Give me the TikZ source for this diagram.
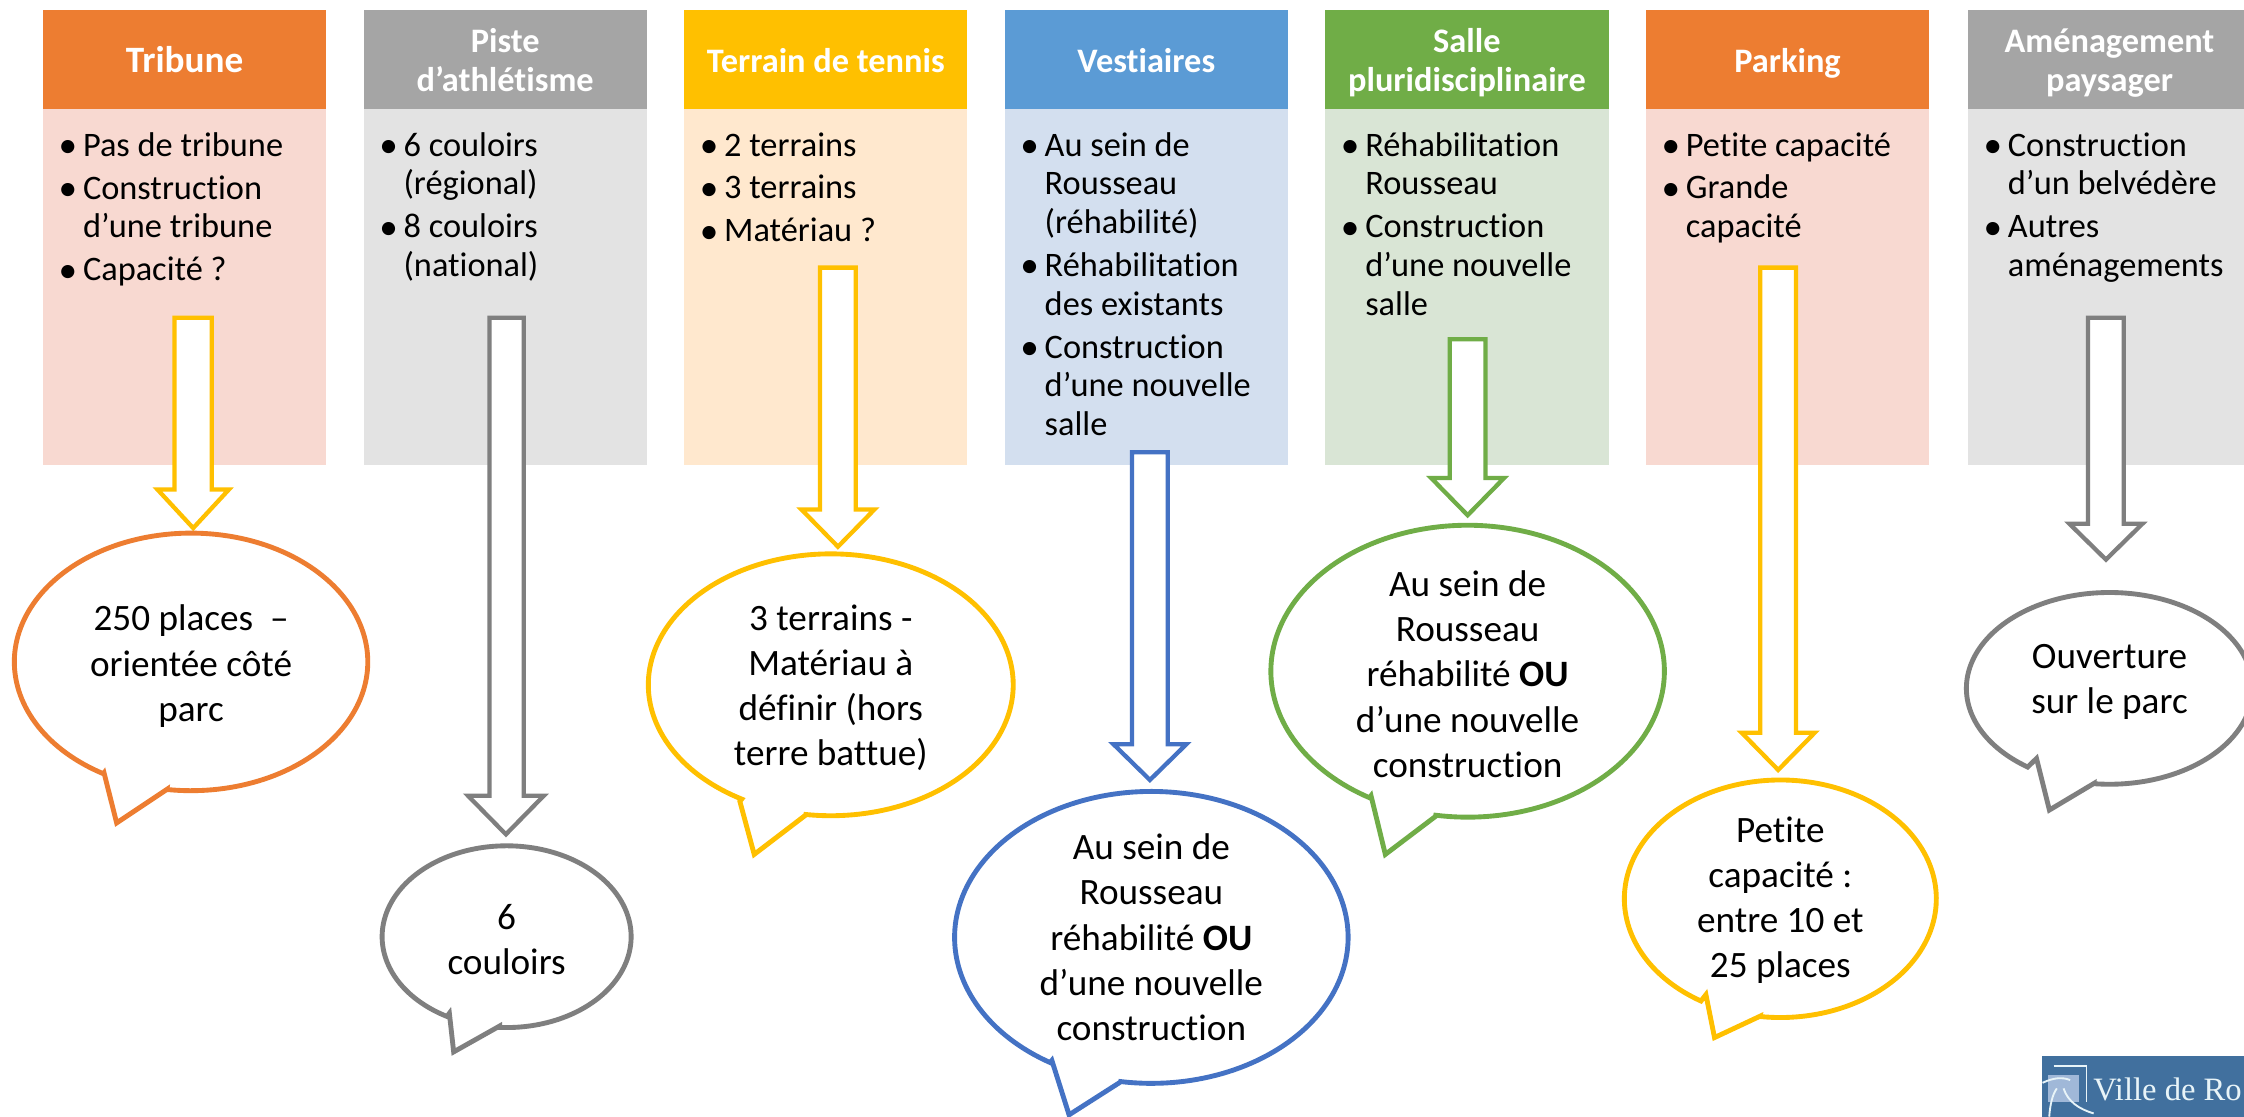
\documentclass[tikz,border=0pt]{standalone}
\usepackage{fontspec}
\setmainfont{Carlito}[Ligatures={NoCommon,TeX}]
\newfontfamily\logofont{Liberation Serif}
\definecolor{cOrange}{HTML}{ED7D31}
\definecolor{cGray}{HTML}{A5A5A5}
\definecolor{cYellow}{HTML}{FFC000}
\definecolor{cBlue}{HTML}{5B9BD5}
\definecolor{cGreen}{HTML}{70AD47}
\definecolor{bOrange}{HTML}{F8D9D1}
\definecolor{bGray}{HTML}{E3E3E3}
\definecolor{bYellow}{HTML}{FFE8CE}
\definecolor{bBlue}{HTML}{D3DFEF}
\definecolor{bGreen}{HTML}{D9E5D5}
\definecolor{aGray}{HTML}{7F7F7F}
\definecolor{aBlue}{HTML}{4472C4}
\definecolor{logoBlue}{HTML}{41709E}
\definecolor{logoSq}{HTML}{A0B8D8}
\definecolor{logoTxt}{HTML}{E8F4F8}
\newcommand{\bl}[1]{\hangindent=15pt\hangafter=1\noindent\makebox[15pt][l]{\hspace{-2pt}\smash{\raisebox{-1pt}{\fontsize{26}{26}\selectfont •}}}#1\par}
\tikzset{
  headbox/.style={anchor=north west,minimum width=198pt,minimum height=69pt,inner sep=0pt,outer sep=0pt,
    text=white,align=center,font=\fontsize{24}{27.5}\selectfont\bfseries},
  bodybox/.style={anchor=north west,minimum width=198pt,minimum height=249pt,inner sep=0pt,outer sep=0pt},
  bullets/.style={anchor=north west,inner sep=0pt,outer sep=0pt,text width=178pt,align=flush left,
    font=\fontsize{24}{27}\selectfont},
  blockarrow/.style={draw=#1,fill=white,line width=3pt,line join=miter,miter limit=10},
  bubble/.style={draw=#1,fill=white,line width=3.4pt,line join=miter},
  bubbletext/.style={align=center,inner sep=0pt,font=\fontsize{26}{31.6}\selectfont}
}
\begin{document}
\begin{tikzpicture}[x=1pt,y=-1pt]
\useasboundingbox (0,0) rectangle (1568,780.5);
\clip (0,0) rectangle (1568,780.5);
\fill[white] (0,0) rectangle (1568,780.5);
% column boxes
\foreach \nm/\xx/\hc/\bc/\txt in {
  a/30/cOrange/bOrange/{\fontsize{26}{27.5}\selectfont Tribune},
  b/254/cGray/bGray/{Piste\\d’athlétisme},
  c/478/cYellow/bYellow/{Terrain de tennis},
  d/702/cBlue/bBlue/{Vestiaires},
  e/926/cGreen/bGreen/{Salle\\pluridisciplinaire},
  f/1150/cOrange/bOrange/{Parking},
  g/1375/cGray/bGray/{Aménagement\\paysager}}{
  \node[bodybox,fill=\bc] (body\nm) at (\xx,76) {};
  \node[headbox,fill=\hc] (head\nm) at (\xx,7) {\rule{0pt}{26pt}\txt\rule[-8pt]{0pt}{8pt}};
}
% bullet texts
\foreach \nm/\xx/\txt in {
  a/43/{\bl{Pas de tribune}\bl{Construction\newline d’une tribune}\bl{Capacité ?}},
  b/267/{\bl{6 couloirs\newline (régional)}\bl{8 couloirs\newline (national)}},
  c/491/{\bl{2 terrains}\bl{3 terrains}\bl{Matériau ?}},
  d/715/{\bl{Au sein de\newline Rousseau\newline (réhabilité)}\bl{Réhabilitation\newline des existants}\bl{Construction\newline d’une nouvelle\newline salle}},
  e/939/{\bl{Réhabilitation\newline Rousseau}\bl{Construction\newline d’une nouvelle\newline salle}},
  f/1163/{\bl{Petite capacité}\bl{Grande\newline capacité}},
  g/1388/{\bl{Construction\newline d’un belvédère}\bl{Autres\newline aménagements}}}{
  \node[bullets] (list\nm) at (\xx,92.5) {\setlength{\parskip}{3pt}\txt};
}
% block arrows: name/colour/shaft left/shaft right/top/head y/head left/head right/tip
\foreach \nm/\col/\xl/\xr/\tp/\hy/\hl/\hr/\tip in {
  a/cYellow/122/148/222/342/110/160/369,
  b/aGray/342/366/222/556/327/380/583,
  c/cYellow/573/598/187/356/560/611/382,
  d/aBlue/791/816/316/520/778/829/545,
  e/cGreen/1013/1038/237/334/1000/1051/360,
  f/cYellow/1230/1255/187/512/1217/1268/538,
  g/aGray/1459/1484/222/366/1446/1497/391}{
  \pgfmathsetmacro{\tx}{(\hl+\hr)/2}
  \coordinate (tip\nm) at (\tx,\tip);
  \draw[blockarrow=\col] (\xl,\tp) -- (\xr,\tp) -- (\xr,\hy) -- (\hr,\hy) -- (tip\nm) -- (\hl,\hy) -- (\xl,\hy) -- cycle;
}
% speech bubbles: name/colour/cx/cy/rx/ry/tail start/tail tip/tail end/text shift/text
\foreach \nm/\col/\cx/\cy/\rx/\ry/\sx/\sy/\tx/\ty/\ex/\ey/\dy/\txt in {
  a/cOrange/133.5/462.5/123.5/90/72.7/540/81.5/575/116.6/551.6/3/{250 places~ –\\orientée côté\\parc},
  b/aGray/354/654.5/87/63.5/314/708/317/735/349/717/2/{6\\couloirs},
  c/cYellow/580.5/478.5/127.5/91.5/517/560/527/597/563/569.5/2/{3 terrains -\\Matériau à\\définir (hors\\terre battue)},
  d/aBlue/804.5/655/137.5/102/735/741/747/779/783/756/0/{Au sein de\\Rousseau\\réhabilité \textbf{OU}\\d’une nouvelle\\construction},
  e/cGreen/1025.5/469/137.5/102/958/556/968/597/1003/570.5/2/{Au sein de\\Rousseau\\réhabilité \textbf{OU}\\d’une nouvelle\\construction},
  f/cYellow/1244/628/109/83/1192/695/1198/725/1230/710/1/{Petite\\capacité :\\entre 10 et\\25 places},
  g/aGray/1474/481/100/67/1423/530/1432/566/1463/547.5/-4.5/{Ouverture\\sur le parc}}{
  \pgfmathsetmacro{\aS}{atan2((\sy-\cy)/\ry,(\sx-\cx)/\rx)}
  \pgfmathsetmacro{\aE}{atan2((\ey-\cy)/\ry,(\ex-\cx)/\rx)}
  \pgfmathsetmacro{\aEnd}{\aS-360}
  \pgfmathsetmacro{\ny}{\cy+\dy}
  \draw[bubble=\col] (\sx,\sy) -- (\tx,\ty) -- (\ex,\ey) --
    plot[domain=\aE:\aEnd,samples=180,variable=\t] ({\cx+\rx*cos(\t)},{\cy+\ry*sin(\t)}) -- cycle;
  \node[bubbletext] (bubble\nm) at (\cx,\ny) {\txt};
}
% logo
\fill[logoBlue] (1427,738) rectangle (1568,780.5);
\fill[logoSq] (1430.7,751) rectangle (1453,770);
\draw[logoTxt,line width=1pt] (1435,745) -- (1458,745) -- (1458,770);
\draw[logoTxt,line width=1.3pt] (1427.2,756.6) .. controls (1435,753) and (1441,752.5) .. (1446.5,754.7);
\draw[logoTxt,line width=1.3pt] (1431.9,780.3) .. controls (1432.5,772) and (1434,765) .. (1437.2,760.5);
\draw[logoTxt,line width=1.3pt] (1441.9,760.5) .. controls (1445,770) and (1453,775) .. (1462.9,778);
\node[anchor=base west,inner sep=0pt,text=logoTxt,font=\logofont\fontsize{22.8}{25}\selectfont] (logotext) at (1462.5,769) {Ville de Ro};
\end{tikzpicture}
\end{document}
